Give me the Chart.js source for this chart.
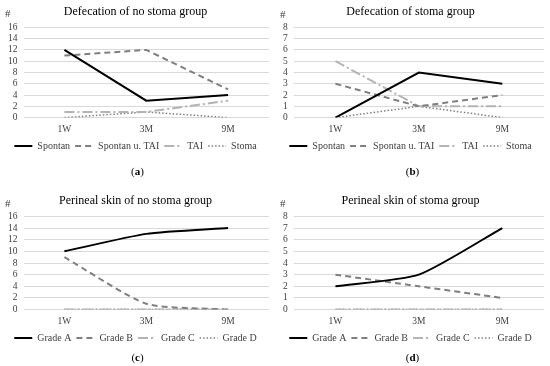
<!DOCTYPE html>
<html><head><meta charset="utf-8">
<script src="https://cdn.jsdelivr.net/npm/chart.js@4"></script>
<style>
html,body{margin:0;padding:0;background:#fff;}
body{width:550px;height:366px;position:relative;overflow:hidden;font-family:"Liberation Serif",serif;}
.pn{position:absolute;width:275px;}
.hash{position:absolute;font-size:11px;color:#404040;}
.cap{position:absolute;width:275px;text-align:center;font-size:11px;color:#000;}
</style></head><body>
<div class="pn" style="left:0;top:0"><canvas id="ca"></canvas></div>
<div class="pn" style="left:275px;top:0"><canvas id="cb"></canvas></div>
<div class="pn" style="left:0;top:189px"><canvas id="cc"></canvas></div>
<div class="pn" style="left:275px;top:189px"><canvas id="cd"></canvas></div>
<div class="hash" style="left:5px;top:7px">#</div>
<div class="hash" style="left:280px;top:8px">#</div>
<div class="hash" style="left:5px;top:197px">#</div>
<div class="hash" style="left:280px;top:197px">#</div>
<div class="cap" style="left:0;top:165px">(<b>a</b>)</div>
<div class="cap" style="left:275px;top:165px">(<b>b</b>)</div>
<div class="cap" style="left:0;top:351px">(<b>c</b>)</div>
<div class="cap" style="left:275px;top:351px">(<b>d</b>)</div>
<script>
const categories = ["1W", "3M", "9M"];
const defecationLabels = ["Spontan", "Spontan u. TAI", "TAI", "Stoma"];
const gradeLabels = ["Grade A", "Grade B", "Grade C", "Grade D"];

const noStomaSpontan = [12, 3, 4];
const noStomaSpontanTAI = [11, 12, 5];
const noStomaTAI = [1, 1, 3];
const noStomaStoma = [0, 1, 0];

const stomaSpontan = [0, 4, 3];
const stomaSpontanTAI = [3, 1, 2];
const stomaTAI = [5, 1, 1];
const stomaStoma = [0, 1, 0];

const skinNoStomaA = [10, 13, 14];
const skinNoStomaB = [9, 1, 0];
const skinNoStomaC = [0, 0, 0];
const skinNoStomaD = [0, 0, 0];

const skinStomaA = [2, 3, 7];
const skinStomaB = [3, 2, 1];
const skinStomaC = [0, 0, 0];
const skinStomaD = [0, 0, 0];

const titles = ["Defecation of no stoma group", "Defecation of stoma group",
  "Perineal skin of no stoma group", "Perineal skin of stoma group"];
const yMax = [16, 8, 16, 8];
const yStep = [2, 1, 2, 1];

const styles = [
  {color: "#000000", dash: [], width: 2},
  {color: "#7f7f7f", dash: [6, 4], width: 2},
  {color: "#b4b4b4", dash: [10, 3, 2, 3], width: 2},
  {color: "#7f7f7f", dash: [1.5, 2], width: 1.5}
];

const FONT = "'Liberation Serif', serif";
const LEG_PAD = 5;

const liftLegend = {
  id: "liftLegend",
  afterLayout(chart) {
    if (chart.legend) { chart.legend.top -= LEG_PAD; chart.legend.bottom -= LEG_PAD; }
  }
};

function make(id, title, labels, series, max, step, tension) {
  new Chart(document.getElementById(id), {
    type: "line",
    plugins: [liftLegend],
    data: {
      labels: categories,
      datasets: series.map((d, i) => ({
        label: labels[i], data: d,
        borderColor: styles[i].color, backgroundColor: styles[i].color,
        borderDash: styles[i].dash, borderWidth: styles[i].width,
        pointRadius: 0, tension: tension, fill: false
      }))
    },
    options: {
      responsive: false, animation: false,
      layout: {padding: {left: 2, right: 6, top: 5, bottom: 0}},
      plugins: {
        title: {display: true, text: title, color: "#000", font: {family: FONT, size: 12, weight: "normal"}, padding: {top: 0, bottom: 8}},
        legend: {position: "bottom", labels: {usePointStyle: true, pointStyle: "line", pointStyleWidth: 18, boxHeight: 6,
          color: "#404040", font: {family: FONT, size: 10}, padding: LEG_PAD,
          generateLabels: (chart) => {
            const items = Chart.defaults.plugins.legend.labels.generateLabels(chart);
            items.forEach((it) => {
              const ds = chart.data.datasets[it.datasetIndex];
              it.lineDash = ds.borderDash; it.lineWidth = ds.borderWidth;
              it.strokeStyle = ds.borderColor; it.fillStyle = ds.borderColor;
            });
            return items;
          }}},
        tooltip: {enabled: false}
      },
      scales: {
        x: {offset: true, grid: {display: false, drawTicks: false, tickLength: 0}, border: {display: false},
          ticks: {color: "#404040", font: {family: FONT, size: 9.5}, padding: 6, autoSkip: false, maxRotation: 0}},
        y: {min: 0, max: max, grid: {color: "#d9d9d9", lineWidth: 1, drawTicks: false}, border: {display: false},
          ticks: {stepSize: step, color: "#404040", font: {family: FONT, size: 9.5}, padding: 6, autoSkip: false}}
      }
    }
  });
}
function setup(id, h) { const c = document.getElementById(id); c.width = 275; c.height = h; }
setup("ca", 166); setup("cb", 166); setup("cc", 169); setup("cd", 169);
make("ca", titles[0], defecationLabels, [noStomaSpontan, noStomaSpontanTAI, noStomaTAI, noStomaStoma], yMax[0], yStep[0], 0);
make("cb", titles[1], defecationLabels, [stomaSpontan, stomaSpontanTAI, stomaTAI, stomaStoma], yMax[1], yStep[1], 0);
make("cc", titles[2], gradeLabels, [skinNoStomaA, skinNoStomaB, skinNoStomaC, skinNoStomaD], yMax[2], yStep[2], 0.2);
make("cd", titles[3], gradeLabels, [skinStomaA, skinStomaB, skinStomaC, skinStomaD], yMax[3], yStep[3], 0.2);
</script>
</body></html>
